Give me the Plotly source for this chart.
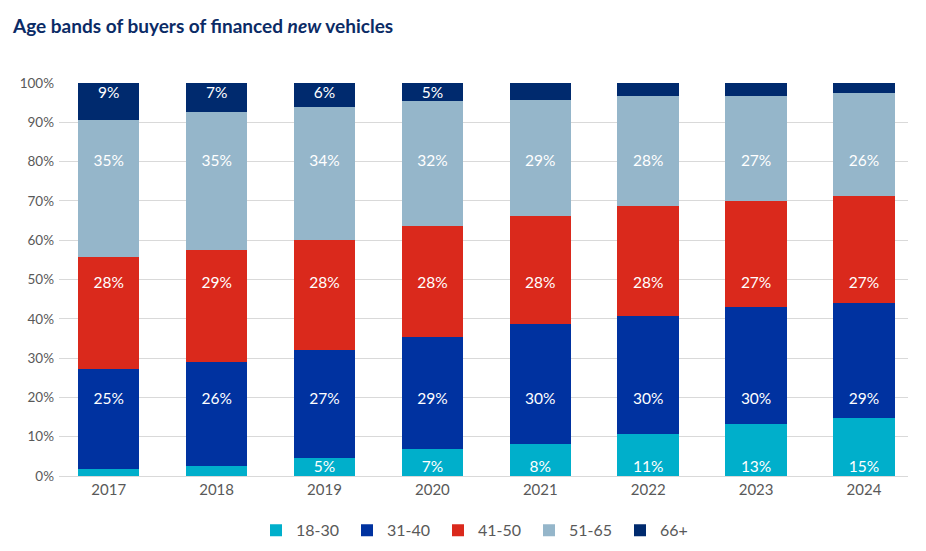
import plotly.graph_objects as go

# data (share of buyers, %)
YEARS = ['2017', '2018', '2019', '2020', '2021', '2022', '2023', '2024']
BANDS = ['18-30', '31-40', '41-50', '51-65', '66+']
AGE_18_30 = [1.9, 2.6, 4.6, 6.8, 8.2, 10.6, 13.2, 14.8]
AGE_31_40 = [25.4, 26.4, 27.4, 28.6, 30.4, 30.2, 29.9, 29.1]
AGE_41_50 = [28.4, 28.6, 28.0, 28.2, 27.6, 28.0, 26.9, 27.4]
AGE_51_65 = [35.0, 35.0, 34.0, 31.8, 29.4, 27.8, 26.6, 26.2]
AGE_66_UP = [9.3, 7.4, 6.0, 4.6, 4.4, 3.4, 3.4, 2.5]

SERIES = [AGE_18_30, AGE_31_40, AGE_41_50, AGE_51_65, AGE_66_UP]
COLORS = ['#00afcb', '#0032a0', '#da291c', '#95b6ca', '#002a6e']
# labels sit at a fixed height per band in the original
LABEL_Y = [1.9, 19.2, 48.9, 79.8, 97.1]

FONT = 'Lato'
GREY = '#595959'

fig = go.Figure()
for name, vals, col in zip(BANDS, SERIES, COLORS):
    fig.add_trace(go.Bar(
        x=YEARS, y=vals, name=name,
        marker=dict(color=col, line=dict(width=0)),
        hoverinfo='x+y+name',
    ))

for vals, ly in zip(SERIES, LABEL_Y):
    txt = [f'{round(v)}%' if round(v) >= 5 else '' for v in vals]
    fig.add_trace(go.Scatter(
        x=YEARS, y=[ly] * len(YEARS), mode='text', text=txt,
        textfont=dict(color='white', size=15.5, family=FONT),
        showlegend=False, hoverinfo='skip',
    ))

fig.update_layout(
    barmode='stack',
    bargap=0.43,
    width=926, height=551,
    margin=dict(l=45, r=26, t=75, b=75),
    plot_bgcolor='white', paper_bgcolor='white',
    font=dict(family=FONT, color=GREY, size=14),
    legend=dict(orientation='h', x=0.5, xanchor='center', y=-0.138, yanchor='middle',
                traceorder='normal', entrywidth=46, font=dict(size=16, color=GREY)),
    annotations=[dict(
        text='<b>Age bands of buyers of financed <i>new</i> vehicles</b>',
        xref='paper', yref='paper', x=-49 / 855, y=1 + 59 / 401,
        xanchor='left', yanchor='middle', showarrow=False,
        font=dict(family=FONT, size=19, color='#0b2b66'),
    )],
)
fig.update_yaxes(range=[0, 100], dtick=10, ticksuffix='%', showgrid=True,
                 gridcolor='#d9d9d9', gridwidth=1, zeroline=False,
                 tickfont=dict(size=13.5, color=GREY), ticklabelstandoff=4)
fig.update_xaxes(range=[-0.461, 7.408], showline=True, linecolor='#d9d9d9', linewidth=1,
                 tickfont=dict(size=15, color=GREY), ticks='')

fig.write_html('out.html')
